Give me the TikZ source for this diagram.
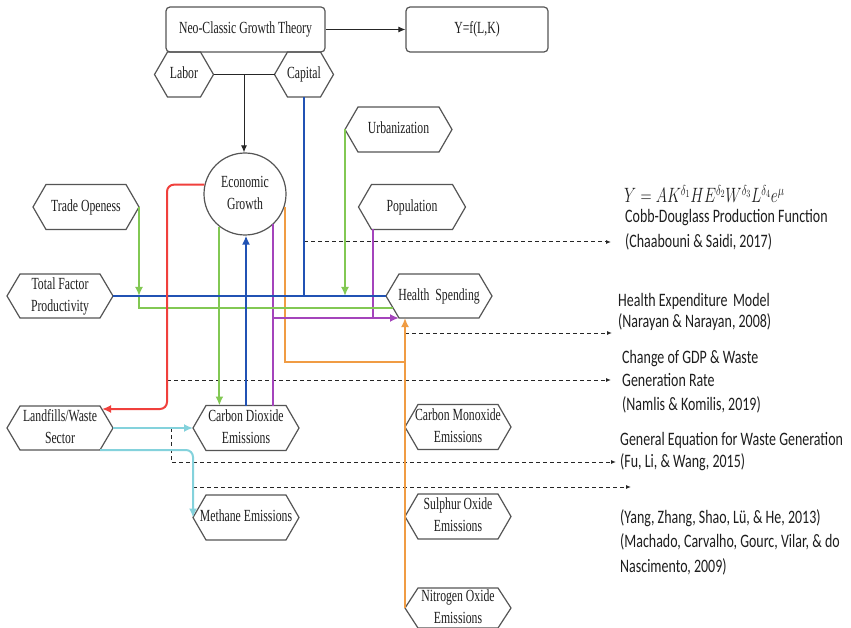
\documentclass[tikz,border=0pt]{standalone}
\usepackage{fontspec}
\setmainfont{Liberation Serif}
\newfontfamily\calfont{Carlito}
\usepackage{graphicx}
\usetikzlibrary{arrows.meta,calc}
\definecolor{hexgray}{HTML}{555555}
\definecolor{txt}{HTML}{1E1E1E}
\definecolor{cblue}{HTML}{2152B4}
\definecolor{cgreen}{HTML}{82C853}
\definecolor{cred}{HTML}{F0403C}
\definecolor{cpurple}{HTML}{A444BC}
\definecolor{corange}{HTML}{F09C44}
\definecolor{ccyan}{HTML}{84D2DC}
\newcommand{\hx}[1]{\scalebox{0.69}[1]{\rmfamily\fontsize{17}{22}\selectfont\begin{tabular}{@{}c@{}}#1\end{tabular}}}
\newcommand{\rt}[2][24]{\scalebox{0.735}[1]{\fontsize{19}{#1}\calfont\begin{tabular}{@{}l@{}}#2\end{tabular}}}
\tikzset{
  hexbox/.style={rectangle, inner sep=0pt, outer sep=0pt},
  hexline/.style={draw=hexgray, line width=1.2pt, line join=miter},
  rbox/.style={rectangle, rounded corners=4pt, draw=hexgray, line width=1.2pt, inner sep=0pt, text=txt},
  lbl/.style={inner sep=0pt, text=txt},
  blk/.style={draw=black!85, line width=1pt},
  bhead/.style={-{Latex[length=7pt,width=6pt]}},
  chead/.style={-{Latex[length=9pt,width=8pt]}},
  lnblue/.style={draw=cblue, line width=2pt},
  lngreen/.style={draw=cgreen, line width=2pt},
  lnred/.style={draw=cred, line width=2pt},
  lnpurple/.style={draw=cpurple, line width=2pt},
  lnorange/.style={draw=corange, line width=2pt},
  lncyan/.style={draw=ccyan, line width=2pt},
  dsh/.style={draw=black!85, line width=1pt, dash pattern=on 4pt off 3pt, -{Latex[length=5pt,width=4pt]}},
}
\newcommand{\hexnode}[6]{%
  \node[hexbox, minimum width=#4pt, minimum height=#5pt] (#1) at (#2,#3) {};
  \node[lbl] (#1-t) at (#1.center) {\hx{#6}};
  \draw[hexline] (#1.west) -- ([xshift=13pt]#1.north west) -- ([xshift=-13pt]#1.north east) -- (#1.east) -- ([xshift=-13pt]#1.south east) -- ([xshift=13pt]#1.south west) -- cycle;
}
\begin{document}
\begin{tikzpicture}[x=1pt,y=-1pt]
\fill[white] (0,0) rectangle (851,628);
\useasboundingbox (0,0) rectangle (851,628);

% boxes
\node[rbox, minimum width=159pt, minimum height=45pt] (neo) at (245.5,29.5) {\hx{Neo-Classic Growth Theory}};
\node[rbox, minimum width=142pt, minimum height=45pt] (yf) at (477,29.5) {\hx{Y=f(L,K)}};

\hexnode{labor}{184}{74.5}{59}{45}{Labor}
\hexnode{capital}{304}{74.5}{59}{45}{Capital}
\hexnode{urb}{398.5}{129.5}{107}{45}{Urbanization}
\hexnode{pop}{412}{207}{107}{45}{Population}
\hexnode{trade}{86}{207}{106}{45}{Trade Openess}
\hexnode{tfp}{60}{296}{106}{44}{Total Factor\\Productivity}
\hexnode{hs}{439}{296}{106}{44}{Health\ \ Spending}
\hexnode{lf}{60}{428}{106}{44}{Landfills/Waste\\Sector}
\hexnode{co2}{246}{428}{106}{45}{Carbon Dioxide\\Emissions}
\hexnode{ch4}{246}{517.5}{106}{45}{Methane Emissions}
\hexnode{cmo}{458}{427}{106}{45}{Carbon Monoxide\\Emissions}
\hexnode{sox}{458}{516.5}{106}{45}{Sulphur Oxide\\Emissions}
\hexnode{nox}{458}{608}{106}{40}{Nitrogen Oxide\\Emissions}

\node[circle, draw=hexgray, line width=1.2pt, minimum size=82pt, inner sep=0pt] (eg) at (245,194) {};
\node[lbl] (eg-t) at (eg.center) {\hx{Economic\\Growth}};

% right texts
\node[lbl, anchor=west] (eq) at (624,194) {\scalebox{0.74}[1]{\fontsize{21}{24}\selectfont $Y = AK^{\delta_1}HE^{\delta_2}W^{\delta_3}L^{\delta_4}e^{\mu}$}};
\node[lbl, anchor=west] (r1) at (625,230.5) {\rt[25]{Cobb-Douglass Production Function\\(Chaabouni \& Saidi, 2017)}};
\node[lbl, anchor=west] (r2) at (618,313) {\rt[21]{Health Expenditure\ \,Model\\(Narayan \& Narayan, 2008)}};
\node[lbl, anchor=west] (r3) at (622,382) {\rt[23.5]{Change of GDP \& Waste\\Generation Rate\\(Namlis \& Komilis, 2019)}};
\node[lbl, anchor=west] (r4) at (620,452.5) {\rt[22]{General Equation for Waste Generation\\(Fu, Li, \& Wang, 2015)}};
\node[lbl, anchor=west] (r5) at (620,543) {\rt[24.5]{(Yang, Zhang, Shao, Lü, \& He, 2013)\\(Machado, Carvalho, Gourc, Vilar, \& do\\Nascimento, 2009)}};

% coordinates
\coordinate (lc) at ($(labor.east)!0.5!(capital.west)$);
\coordinate (redx) at (167,380);
\coordinate (lfr) at ([xshift=-11pt,yshift=-3pt]lf.north east);
\coordinate (hsg) at ([xshift=7pt,yshift=-12pt]hs.west);
\coordinate (hsp) at ([xshift=13pt]hs.south west);
\coordinate (popb) at ([xshift=14.5pt]pop.south west);
\coordinate (oj) at (405,362);
\coordinate (d1e) at (611,242);
\coordinate (d2e) at (612,333);
\coordinate (d3e) at (611,380);
\coordinate (d4s) at (171,428);
\coordinate (d4e) at (616,462);
\coordinate (d5e) at (631,487);

% black connectors
\draw[blk,bhead] (neo.east) -- (yf.west);
\draw[blk] (labor.east) -- (capital.west);
\draw[blk,bhead] (lc) -- (lc |- eg.north);

% dashed connectors
\draw[dsh] (capital.south |- d1e) -- (d1e);
\draw[dsh] (cmo.west |- d2e) -- (d2e);
\draw[dsh] (redx) -- (d3e);
\draw[dsh] (d4s) |- (d4e);
\draw[dsh] (ch4.west |- d5e) -- (d5e);

% orange
\draw[lnorange] (eg.342) |- (oj);
\draw[lnorange,chead] (nox.west) -- (nox.west |- hs.south);

% purple
\draw[lnpurple] (eg.313) -- (eg.313 |- co2.north);
\draw[lnpurple] (popb) -- (popb |- hsp);
\draw[lnpurple,chead] (eg.313 |- hsp) -- (hsp);

% green
\draw[lngreen] (trade.east |- tfp.east) -- (trade.east |- hsg) -- (hsg);
\draw[lngreen,chead] (trade.east) -- (trade.east |- tfp.east);
\draw[lngreen,chead] (urb.west) -- (urb.west |- tfp.east);
\draw[lngreen,chead] (eg.232) -- (eg.232 |- co2.north);

% blue
\draw[lnblue] (capital.south) -- (capital.south |- tfp.east);
\draw[lnblue] (tfp.east) -- (hs.west);
\draw[lnblue,chead] (co2.north) -- (co2.north |- eg.south);

% red
\draw[lnred,chead,rounded corners=7pt] (eg.167) -- (eg.167 -| redx) -- (redx |- lfr) -- (lfr);

% cyan
\draw[lncyan,chead] (lf.east) -- (co2.west);
\draw[lncyan,chead,rounded corners=7pt] ([xshift=-13pt]lf.south east) -- (ch4.west |- lf.south) -- (ch4.west);
\end{tikzpicture}
\end{document}
